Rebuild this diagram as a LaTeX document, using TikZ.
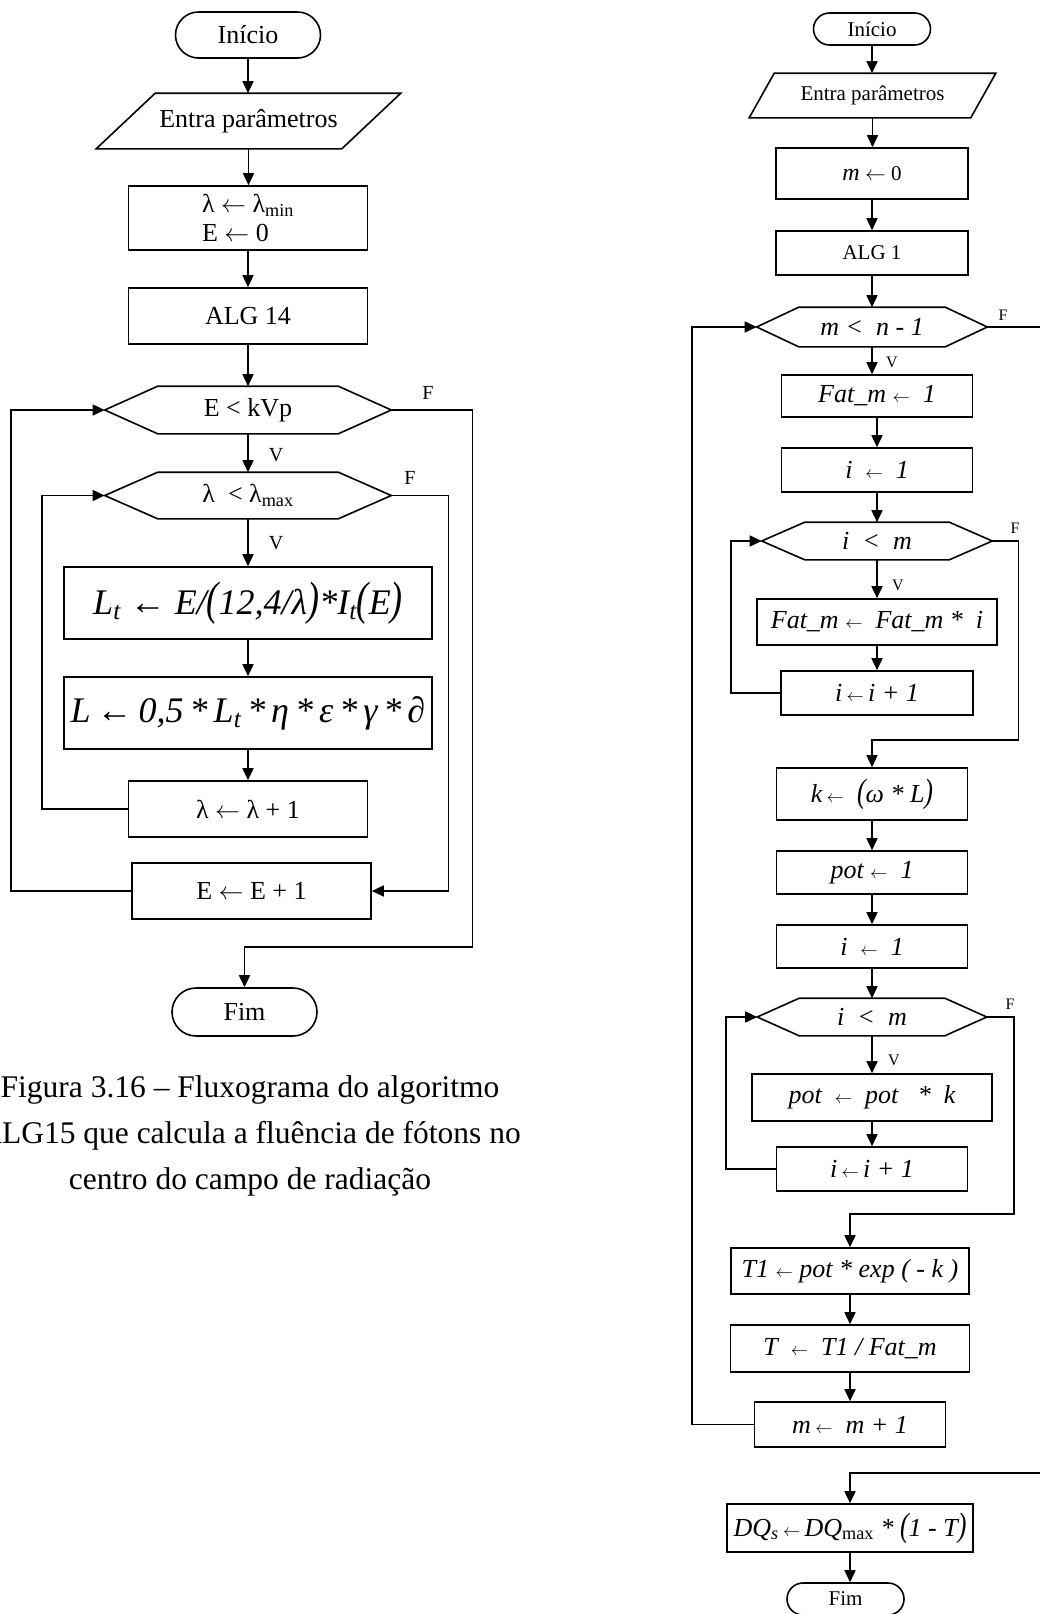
\documentclass[tikz,border=0pt]{standalone}
\usepackage{fontspec}
\setmainfont{Liberation Serif}
\usetikzlibrary{shapes.misc}
\usetikzlibrary{arrows.meta}

\newcommand\fsz[1]{\fontsize{#1}{#1}\selectfont}
\newcommand\tp[1]{\scalebox{1}[1.3]{#1}}
\newcommand\larr{$\leftarrow$}
\newcommand\sarr{{\fsz{18}$\leftarrow$}}

\tikzset{
  flow/.style = {-{Triangle[length = 12pt, width = 11pt]}},
  box/.style = {draw, rectangle, inner sep = 0pt},
  term/.style = {draw, rounded rectangle, inner sep = 0pt},
  cond/.style = {rectangle, inner sep = 0pt},
  lt/.style = {font = \fsz{26}},
  li/.style = {font = \fsz{36}\itshape},
  rt/.style = {font = \fsz{21}},
  ri/.style = {font = \fsz{26}\itshape},
  lbl/.style = {font = \fsz{20}, inner sep = 0pt},
  rlbl/.style = {font = \fsz{16}, inner sep = 0pt},
  capt/.style = {font = \fsz{31.5}, anchor = base, inner sep = 0pt}
}

\begin{document}
\begin{tikzpicture}[x = 1pt, y = -1pt, line width = 1.6pt]
  \path[use as bounding box] (0, 0) rectangle (1040, 1614);
  \clip (0, 0) rectangle (1040, 1614);

  % left flowchart
  \node[term, lt, minimum width = 145pt, minimum height = 46pt] (s1) at (248, 35) {Início};
  \node[cond, lt, minimum width = 303pt, minimum height = 54pt] (in1) at (248.5, 121) {Entra parâmetros};
  \node[box, lt, minimum width = 239pt, minimum height = 64pt, align = left] (b1) at (248, 218)
    {λ \larr\ λ\textsubscript{min}\\[3pt]E \larr\ 0};
  \node[box, lt, minimum width = 239pt, minimum height = 56pt] (b2) at (248, 316) {ALG 14};
  \node[cond, lt, minimum width = 285pt, minimum height = 46pt] (c1) at (248, 410) {E < kVp};
  \node[cond, lt, minimum width = 285pt, minimum height = 45pt] (c2) at (248, 495.5)
    {λ \ < λ\textsubscript{max}};
  \node[box, li, minimum width = 368pt, minimum height = 72pt] (b3) at (248, 603)
    {L\textsubscript{t} \textup{←} E/\tp{(}12,4/λ\tp{)}*I\textsubscript{t}\tp{(}E\tp{)}};
  \node[box, li, minimum width = 368pt, minimum height = 72pt] (b4) at (248, 713)
    {L\,\textup{←}\,0,5\,*\,L\textsubscript{t}\,*\,η\,*\,ε\,*\,γ\,*\,∂};
  \node[box, lt, minimum width = 239pt, minimum height = 56pt] (b5) at (248, 809) {λ \larr\ λ + 1};
  \node[box, lt, minimum width = 239pt, minimum height = 56pt] (b6) at (251.5, 891) {E \larr\ E + 1};
  \node[term, lt, minimum width = 145pt, minimum height = 48pt] (e1) at (244.5, 1012) {Fim};

  \node[lbl] (f1) at (428, 393) {F};
  \node[lbl] (v1) at (276, 455) {V};
  \node[lbl] (f2) at (410, 478) {F};
  \node[lbl] (v2) at (276, 543) {V};

  % right flowchart
  \node[term, rt, minimum width = 117pt, minimum height = 32pt] (s2) at (872, 29) {Início};
  \node[cond, rt, minimum width = 245pt, minimum height = 43pt] (in2) at (872.5, 95.5) {Entra parâmetros};
  \node[box, rt, minimum width = 192pt, minimum height = 51pt] (r1) at (872, 173.5)
    {{\fsz{24}\textit{m}} \larr\ 0};
  \node[box, rt, minimum width = 192pt, minimum height = 44pt] (r2) at (872, 253) {ALG 1};
  \node[cond, ri, minimum width = 229pt, minimum height = 38pt] (d1) at (872, 327) {m <\ \ n - 1};
  \node[box, ri, minimum width = 191pt, minimum height = 42pt] (r3) at (877, 396) {Fat\_m \sarr\ \ 1};
  \node[box, ri, minimum width = 191pt, minimum height = 44pt] (r4) at (877, 470) {i \ \sarr\ \ 1};
  \node[cond, ri, minimum width = 229pt, minimum height = 36pt] (d2) at (877, 541) {i \ < \ m};
  \node[box, ri, minimum width = 240pt, minimum height = 46pt] (r5) at (877, 622)
    {Fat\_m \sarr\ \ Fat\_m * \ i};
  \node[box, ri, minimum width = 192pt, minimum height = 44pt] (r6) at (877, 693) {i\,\sarr\,i + 1};
  \node[box, ri, minimum width = 191pt, minimum height = 52pt] (r7) at (872, 794)
    {k\,\sarr\ \ \tp{(}ω * L\tp{)}};
  \node[box, ri, minimum width = 191pt, minimum height = 43pt] (r8) at (872, 872.5) {pot \sarr\ \ 1};
  \node[box, ri, minimum width = 191pt, minimum height = 43pt] (r9) at (872, 946.5) {i \ \sarr\ \ 1};
  \node[cond, ri, minimum width = 228pt, minimum height = 36pt] (d3) at (872, 1017) {i \ < \ m};
  \node[box, ri, minimum width = 240pt, minimum height = 47pt] (r10) at (872, 1097.5)
    {pot \ \sarr\ \ pot \ \ * \ k};
  \node[box, ri, minimum width = 191pt, minimum height = 44pt] (r11) at (872, 1169) {i\,\sarr\,i + 1};
  \node[box, ri, minimum width = 238pt, minimum height = 46pt] (r12) at (850, 1271)
    {T1 \sarr\ pot * exp ( - k )};
  \node[box, ri, minimum width = 239pt, minimum height = 47pt] (r13) at (850, 1348.5)
    {T \ \sarr\ \ T1 / Fat\_m};
  \node[box, ri, minimum width = 191pt, minimum height = 45pt] (r14) at (850, 1424.5)
    {m\,\sarr\ \ m + 1};
  \node[box, ri, minimum width = 246pt, minimum height = 48pt] (r15) at (850, 1528)
    {DQ\textsubscript{s}\,\sarr\,DQ\textsubscript{\upshape max} * \tp{(}1 - T\tp{)}};
  \node[term, rt, minimum width = 117pt, minimum height = 32pt] (e2) at (845.5, 1599) {Fim};

  \node[rlbl] (f3) at (1003, 315) {F};
  \node[rlbl] (v3) at (892, 362) {V};
  \node[rlbl] (f4) at (1015, 528) {F};
  \node[rlbl] (v4) at (898, 585) {V};
  \node[rlbl] (f5) at (1010, 1004) {F};
  \node[rlbl] (v5) at (894, 1060) {V};

  % hexagons and parallelograms
  \foreach \h/\off in {c1/53, c2/53, d1/42, d2/43, d3/42}
    \draw (\h.west) -- ([xshift = \off pt]\h.north west) -- ([xshift = -\off pt]\h.north east)
      -- (\h.east) -- ([xshift = -\off pt]\h.south east) -- ([xshift = \off pt]\h.south west) -- cycle;
  \foreach \p/\off in {in1/59, in2/25}
    \draw ([xshift = \off pt]\p.north west) -- (\p.north east)
      -- ([xshift = -\off pt]\p.south east) -- (\p.south west) -- cycle;

  % straight arrows
  \foreach \a/\b in {s1/in1, in1/b1, b1/b2, b2/c1, c1/c2, c2/b3, b3/b4, b4/b5,
    s2/in2, in2/r1, r1/r2, r2/d1, d1/r3, r3/r4, r4/d2, d2/r5, r5/r6, r7/r8, r8/r9,
    r9/d3, d3/r10, r10/r11, r12/r13, r13/r14, r15/e2}
    \draw[flow] (\a) -- (\a |- \b.north);

  % loops
  \draw[flow] (b5.west) -- ++(-86, 0) |- (c2.west);
  \draw[flow] (c2.east) -- ++(57, 0) |- (b6.east);
  \draw[flow] (b6.west) -- ++(-120, 0) |- (c1.west);
  \draw[flow] (c1.east) -- ++(81, 0) -- ++(0, 537) -| (e1.north);

  \draw[flow] (r6.west) -- ++(-49, 0) |- (d2.west);
  \draw[flow] (d2.east) -- ++(26, 0) -- ++(0, 199) -| (r7.north);
  \draw[flow] (r11.west) -- ++(-50, 0) |- (d3.west);
  \draw[flow] (d3.east) -- ++(27, 0) -- ++(0, 197) -| (r12.north);
  \draw[flow] (r14.west) -- ++(-62, 0) |- (d1.west);
  \draw[flow] (d1.east) -- ++(58, 0) -- ++(0, 1146) -| (r15.north);

  % caption
  \node[capt] (cap1) at (250, 1097) {Figura 3.16 – Fluxograma do algoritmo};
  \node[capt] (cap2) at (250, 1143) {ALG15 que calcula a fluência de fótons no};
  \node[capt] (cap3) at (250, 1189) {centro do campo de radiação};
\end{tikzpicture}
\end{document}
